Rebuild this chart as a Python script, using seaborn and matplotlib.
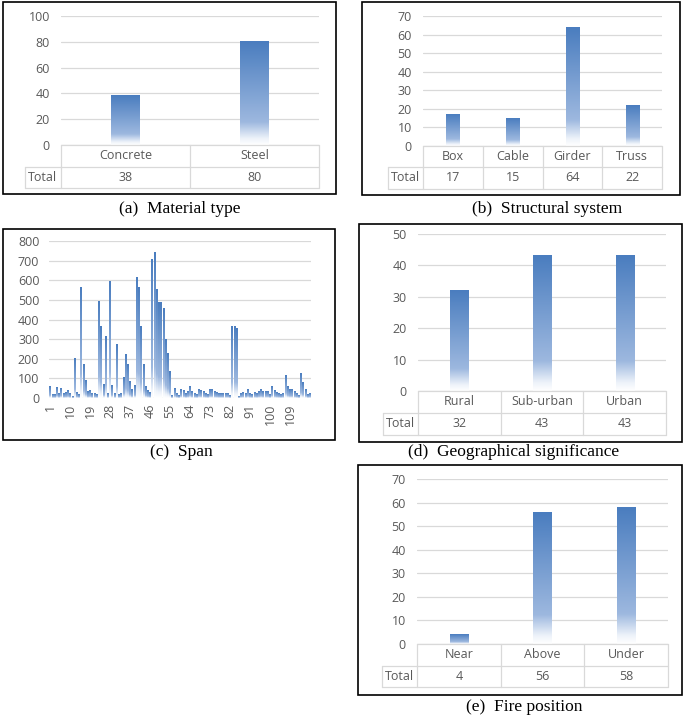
import numpy as np
import seaborn as sns
import matplotlib.pyplot as plt
from matplotlib.colors import LinearSegmentedColormap
from matplotlib.lines import Line2D
from matplotlib.patches import Rectangle

W, H = 685, 716

# ---- data ----
material = ["Concrete", "Steel"]
material_n = [38, 80]

system = ["Box", "Cable", "Girder", "Truss"]
system_n = [17, 15, 64, 22]

geo = ["Rural", "Sub-urban", "Urban"]
geo_n = [32, 43, 43]

fire = ["Near", "Above", "Under"]
fire_n = [4, 56, 58]

span_id = list(range(1, 119))
span = [58, 20, 20, 55, 25, 50, 25, 30, 38, 25,
        10, 200, 30, 20, 563, 172, 89, 33, 38, 25,
        25, 20, 490, 362, 67, 312, 22, 592, 63, 25,
        272, 20, 25, 103, 222, 169, 84, 43, 63, 612,
        562, 364, 169, 58, 40, 30, 705, 740, 553, 488,
        488, 456, 300, 229, 135, 15, 46, 25, 12, 43,
        38, 25, 33, 61, 33, 25, 17, 43, 38, 33,
        25, 17, 43, 43, 33, 30, 25, 22, 25, 25,
        22, 15, 365, 365, 355, 10, 22, 30, 25, 43,
        22, 17, 30, 25, 33, 43, 33, 33, 33, 17,
        61, 38, 30, 22, 17, 22, 113, 61, 45, 45,
        33, 22, 12, 126, 79, 45, 17, 22]
span_ticks = [1, 10, 19, 28, 37, 46, 55, 64, 73, 82, 91, 100, 109]

sns.set_theme(style="white")
plt.rcParams["font.family"] = ["Open Sans", "DejaVu Sans"]

GRID = "#d9d9d9"
TXT = "#595959"
grad = LinearSegmentedColormap.from_list(
    "xl", [(0, "#ffffff"), (0.06, "#eef3fa"), (0.22, "#9db8df"), (1, "#4a7dbf")])
gvals = np.linspace(0, 1, 256).reshape(-1, 1)

fig = plt.figure(figsize=(W / 100, H / 100), dpi=100)


def fx(x):
    return x / W


def fy(y):
    return 1 - y / H


def add_ax(left, right, top, zero):
    return fig.add_axes([fx(left), fy(zero), (right - left) / W, (zero - top) / H])


def gradient_bars(ax):
    xl, yl = ax.get_xlim(), ax.get_ylim()
    for p in ax.patches:
        x0, w, h = p.get_x(), p.get_width(), p.get_height()
        ax.imshow(gvals, cmap=grad, origin="lower", aspect="auto",
                  extent=[x0, x0 + w, 0, h], zorder=2, interpolation="bilinear")
        p.set_alpha(0)
    ax.set_xlim(xl)
    ax.set_ylim(yl)


def style_ax(ax, ymax, step, fs=9):
    ax.set_ylim(0, ymax)
    ax.set_yticks(np.arange(0, ymax + 1, step))
    ax.yaxis.grid(True, color=GRID, lw=0.9)
    ax.set_axisbelow(True)
    for s in ax.spines.values():
        s.set_visible(False)
    ax.tick_params(axis="y", length=0, labelsize=fs, labelcolor=TXT, pad=8)
    ax.set_xlabel("")
    ax.set_ylabel("")


def data_table(ax, cats, vals, total_left, row_h, fs=9):
    n = len(cats)
    bb = ax.get_position()
    axh = bb.height * H
    r1 = -row_h / axh
    r2 = -2 * row_h / axh
    tr = ax.get_xaxis_transform()
    catw = (bb.width * W) / n
    xl = -0.5 - (bb.x0 * W - total_left) / catw
    kw = dict(color=GRID, lw=0.9, transform=tr, clip_on=False)
    ax.add_line(Line2D([-0.5, n - 0.5], [0, 0], **kw))
    ax.add_line(Line2D([xl, n - 0.5], [r1, r1], **kw))
    ax.add_line(Line2D([xl, n - 0.5], [r2, r2], **kw))
    ax.add_line(Line2D([xl, xl], [r1, r2], **kw))
    for i in range(n + 1):
        ax.add_line(Line2D([i - 0.5, i - 0.5], [0, r2], **kw))
    for i, (c, v) in enumerate(zip(cats, vals)):
        ax.text(i, r1 / 2, c, transform=tr, ha="center", va="center",
                fontsize=fs, color=TXT)
        ax.text(i, (r1 + r2) / 2, str(v), transform=tr, ha="center",
                va="center", fontsize=fs, color=TXT)
    ax.text((xl - 0.5) / 2, (r1 + r2) / 2, "Total", transform=tr,
            ha="center", va="center", fontsize=fs, color=TXT)


def cat_panel(cats, vals, box, ymax, step):
    left, right, top, zero, total_left, row_h = box
    ax = add_ax(left, right, top, zero)
    sns.barplot(x=cats, y=vals, ax=ax, color="#4a7dbf", width=0.22, saturation=1)
    ax.set_xlim(-0.5, len(cats) - 0.5)
    style_ax(ax, ymax, step)
    ax.set_xticks([])
    gradient_bars(ax)
    data_table(ax, cats, vals, total_left, row_h)
    return ax


def frame(l, t, r, b):
    fig.add_artist(Rectangle((fx(l), fy(b)), (r - l) / W, (b - t) / H,
                             transform=fig.transFigure, fill=False,
                             ec="black", lw=1.2))


def caption(x, y, s):
    fig.text(fx(x), fy(y), s, ha="center", va="center",
             family="Liberation Serif", fontsize=12.5, color="black")


# ---- (a) material type ----
frame(3, 2, 336, 194)
cat_panel(material, material_n, (61, 319, 16, 145, 25, 21.5), 100, 20)
caption(180, 209, "(a)  Material type")

# ---- (b) structural system ----
frame(362, 2, 680, 195)
cat_panel(system, system_n, (423, 662, 16, 146, 388, 21.3), 70, 10)
caption(547, 209, "(b)  Structural system")

# ---- (c) span ----
frame(3, 229, 335, 440)
ax = add_ax(49, 311, 241, 398)
sns.barplot(x=span_id, y=span, ax=ax, color="#4a7dbf", width=0.72, saturation=1)
ax.set_xlim(-0.5, len(span) - 0.5)
style_ax(ax, 800, 100, fs=9)
ax.tick_params(axis="y", pad=7)
ax.set_xticks([span_id.index(t) for t in span_ticks])
ax.set_xticklabels([str(t) for t in span_ticks], rotation=90)
ax.tick_params(axis="x", length=0, labelsize=9, labelcolor=TXT, pad=4)
gradient_bars(ax)
caption(181, 452, "(c)  Span")

# ---- (d) geographical significance ----
frame(359, 224, 682, 442)
cat_panel(geo, geo_n, (418, 666, 234, 391, 383, 21.8), 50, 10)
caption(514, 452, "(d)  Geographical significance")

# ---- (e) fire position ----
frame(358, 465, 682, 695)
cat_panel(fire, fire_n, (417, 668, 479, 644, 382, 21.5), 70, 10)
caption(524, 707, "(e)  Fire position")

fig.savefig("out.png", dpi=100, facecolor="white")
